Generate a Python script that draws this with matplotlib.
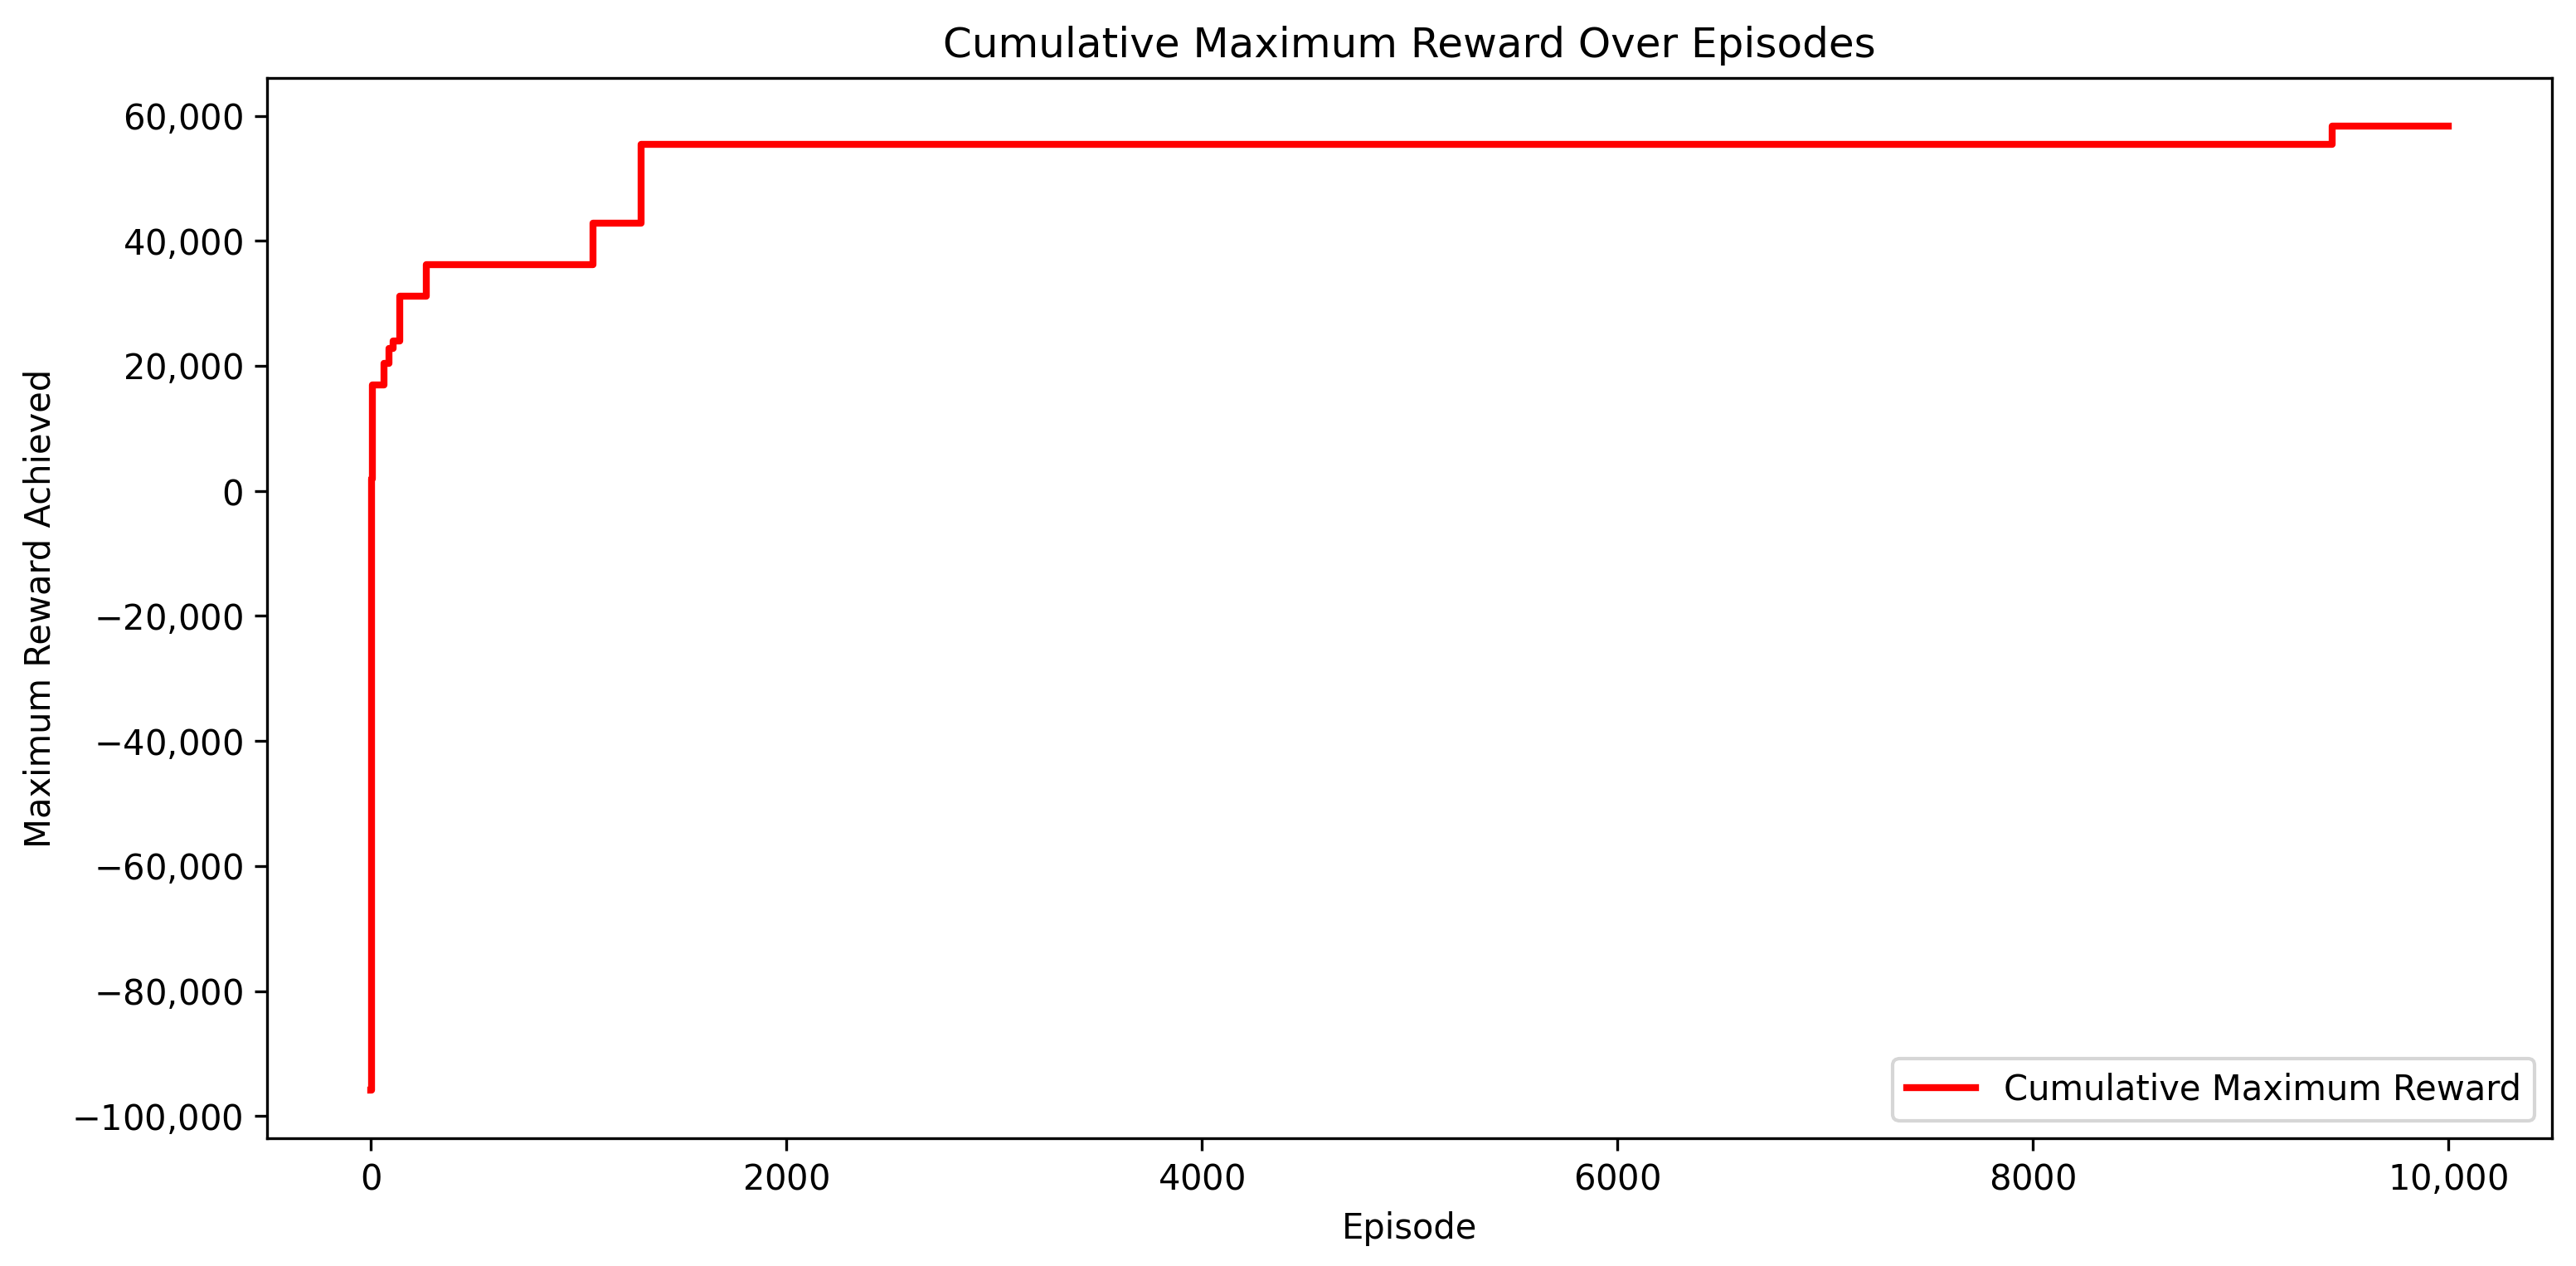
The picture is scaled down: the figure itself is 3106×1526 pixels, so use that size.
import numpy as np
import matplotlib
matplotlib.use('Agg')
import matplotlib.pyplot as plt
from matplotlib.ticker import FuncFormatter

# Episodios donde el maximo acumulado cambia (lectura del grafico)
episodes = [0, 2, 4, 8, 65, 86, 109, 140, 269, 1068, 1301, 9442, 10000]
max_reward = [-95800, -69500, 1900, 16960, 20410, 22800, 24035, 31200,
              36165, 42840, 55450, 58300, 58300]


def group_fmt(v, pos):
    # agrupa con coma solo a partir de 5 cifras, como en el original
    n = int(round(v))
    s = f"{n:,}" if abs(n) >= 10000 else f"{n}"
    return "$" + s.replace(",", "{,}") + "$"


fig = plt.figure(figsize=(3106 / 300, 1526 / 300), dpi=300)
ax = fig.add_subplot(111)
fig.subplots_adjust(left=0.1036, right=0.9907, top=0.9382, bottom=0.1011)

ax.plot(episodes, max_reward, color='red', linewidth=2, drawstyle='steps-post',
        label='Cumulative Maximum Reward')

ax.xaxis.set_major_formatter(FuncFormatter(group_fmt))
ax.yaxis.set_major_formatter(FuncFormatter(group_fmt))

ax.set_xlabel('Episode')
ax.set_ylabel('Maximum Reward Achieved')
ax.set_title('Cumulative Maximum Reward Over Episodes')
ax.legend(loc='lower right')

fig.savefig('out.png', dpi=300)
